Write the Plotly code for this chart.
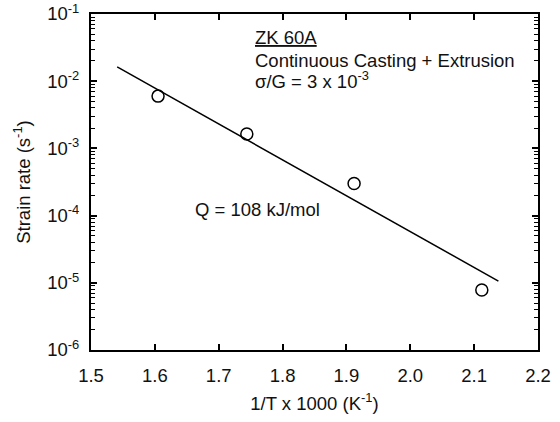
import plotly.graph_objects as go

# Data
inv_T = [1.605, 1.744, 1.912, 2.112]
strain_rate = [6.0e-3, 1.64e-3, 3.0e-4, 7.8e-6]
fit_x = [1.541, 2.138]
fit_y = [1.63e-2, 1.06e-5]

x_ticks = [1.5, 1.6, 1.7, 1.8, 1.9, 2.0, 2.1, 2.2]
x_ticklabels = ["1.5", "1.6", "1.7", "1.8", "1.9", "2.0", "2.1", "2.2"]
y_exponents = [-6, -5, -4, -3, -2, -1]
y_ticks = [10.0 ** e for e in y_exponents]
y_ticklabels = ["10<sup>%d</sup>" % e for e in y_exponents]
y_minor = [m * 10.0 ** e for e in y_exponents[:-1] for m in range(2, 10)]

FONT = "Liberation Sans, Arial, sans-serif"
FS = 18.5

fig = go.Figure()
fig.add_trace(go.Scatter(x=fit_x, y=fit_y, mode="lines",
                         line=dict(color="black", width=1.5), showlegend=False))
fig.add_trace(go.Scatter(x=inv_T, y=strain_rate, mode="markers",
                         marker=dict(symbol="circle-open", size=12, color="black",
                                     line=dict(width=1.5, color="black")),
                         showlegend=False))

fig.update_layout(
    width=560, height=422,
    margin=dict(l=91, r=22, t=14, b=72),
    paper_bgcolor="white", plot_bgcolor="white",
    font=dict(family=FONT, size=FS, color="#111111"),
    xaxis=dict(range=[1.5, 2.2], tickvals=x_ticks, ticktext=x_ticklabels,
               ticks="inside", ticklen=6, tickwidth=1.5, tickcolor="black",
               showline=True, linecolor="black", linewidth=2, mirror="ticks",
               showgrid=False, zeroline=False, automargin=False,
               ticklabelstandoff=8,
               title=dict(text="1/T x 1000 (K<sup>-1</sup>)", standoff=12,
                          font=dict(size=FS))),
    yaxis=dict(type="log", range=[-6, -1], tickvals=y_ticks, ticktext=y_ticklabels,
               ticks="inside", ticklen=6, tickwidth=1.5, tickcolor="black",
               showline=True, linecolor="black", linewidth=2, mirror="ticks",
               showgrid=False, zeroline=False, automargin=False,
               ticklabelstandoff=6,
               minor=dict(tickmode="array", tickvals=y_minor, ticks="inside",
                          ticklen=4, tickwidth=1, tickcolor="black", showgrid=False),
               title=dict(text="Strain rate (s<sup>-1</sup>)", standoff=12,
                          font=dict(size=FS))),
)

ann = dict(xref="paper", yref="paper", xanchor="left", yanchor="middle",
           showarrow=False, font=dict(family=FONT, size=FS, color="#111111"))
fig.add_annotation(x=0.362, y=0.929, text="<u>ZK 60A</u>", **ann)
fig.add_annotation(x=0.362, y=0.862, text="Continuous Casting + Extrusion", **ann)
fig.add_annotation(x=0.362, y=0.803, text="σ/G = 3 x 10<sup>-3</sup>", **ann)
fig.add_annotation(x=0.228, y=0.417, text="Q = 108 kJ/mol", **ann)

fig.write_html("out.html")
